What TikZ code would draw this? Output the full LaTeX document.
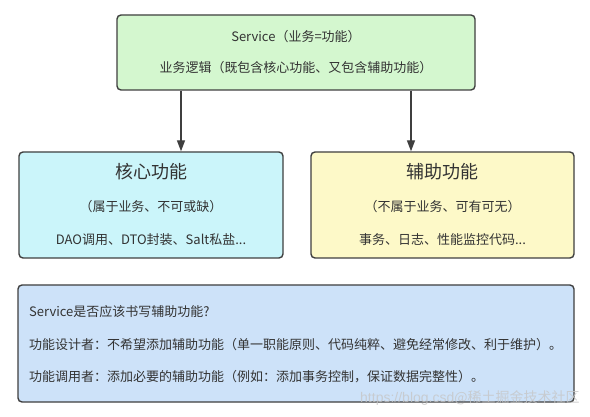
\documentclass[tikz,border=0pt]{standalone}
\usepackage{fontspec}
\setmainfont{Noto Sans CJK SC}
\newfontfamily\wmfont{Liberation Sans}
\usetikzlibrary{calc,arrows.meta}
\definecolor{bordc}{HTML}{3F3F3F}
\definecolor{txtc}{HTML}{333333}
\definecolor{greenf}{HTML}{D4F7CF}
\definecolor{cyanf}{HTML}{CBF5FA}
\definecolor{yellowf}{HTML}{FDF9C8}
\definecolor{bluef}{HTML}{CDE2F9}
\tikzset{
  x=1pt, y=-1pt,
  boxstyle/.style={draw=bordc, line width=1.4pt, rounded corners=4pt, inner sep=0pt},
  txt/.style={text=txtc, inner sep=0pt, font=\fontsize{13}{16}\selectfont},
  ttl/.style={text=txtc, inner sep=0pt, font=\fontsize{18}{21}\selectfont},
  arr/.style={draw=bordc, line width=1.4pt, -{Triangle[length=11pt,width=8pt]}},
}
\begin{document}
\begin{tikzpicture}
\useasboundingbox[fill=white] (0,0) rectangle (590,417);
% boxes
\node[boxstyle, fill=greenf, minimum width=358pt, minimum height=75pt] (top) at (296,52.5) {};
\node[boxstyle, fill=cyanf, minimum width=264pt, minimum height=106pt] (core) at (151,205) {};
\node[boxstyle, fill=yellowf, minimum width=263pt, minimum height=106pt] (aux) at (442.5,205) {};
\node[boxstyle, fill=bluef, minimum width=556pt, minimum height=117pt] (bot) at (296,343.5) {};
% texts
\node[txt] (t1) at (296,37) {Service（业务=功能）};
\node[txt] (t2) at (296,68) {业务逻辑（既包含核心功能、又包含辅助功能）};
\node[ttl] (c1) at (151,172) {核心功能};
\node[txt] (c2) at (151,207) {（属于业务、不可或缺）};
\node[txt] (c3) at (151,240) {DAO调用、DTO封装、Salt私盐...};
\node[ttl] (a1) at (442.5,172) {辅助功能};
\node[txt] (a2) at (442.5,207) {（不属于业务、可有可无）};
\node[txt] (a3) at (442.5,240) {事务、日志、性能监控代码...};
\node[txt, anchor=west] (b1) at (29,312) {Service是否应该书写辅助功能?};
\node[txt, anchor=west] (b2) at (29,345) {功能设计者：不希望添加辅助功能（单一职能原则、代码纯粹、避免经常修改、利于维护）。};
\node[txt, anchor=west] (b3) at (29,377) {功能调用者：添加必要的辅助功能（例如：添加事务控制，保证数据完整性）。};
% arrows
\coordinate (la) at ($(top.south)+(-115pt,0)$);
\coordinate (ra) at ($(top.south)+(115pt,0)$);
\draw[arr] (la) -- (la |- core.north);
\draw[arr] (ra) -- (ra |- aux.north);
% watermark
\node[inner sep=0pt, anchor=west, text=gray!45, opacity=0.8, font=\fontsize{14}{16}\selectfont] (wm) at (360,398)
  {{\wmfont https://blog.csd}@稀土掘金技术社区};
\end{tikzpicture}
\end{document}
